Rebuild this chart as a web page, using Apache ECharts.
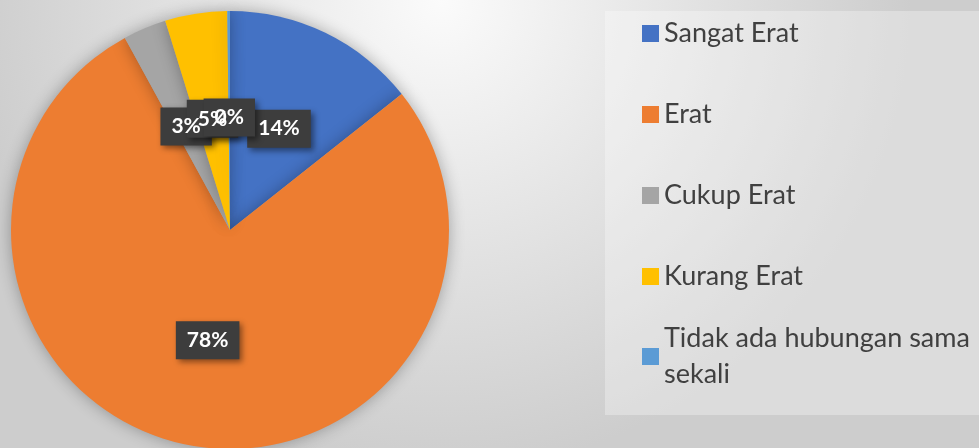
<!DOCTYPE html>
<html>
<head>
<meta charset="utf-8">
<script src="https://cdn.jsdelivr.net/npm/echarts@6/dist/echarts.min.js"></script>
<style>
  html, body { margin: 0; padding: 0; }
  #chart { width: 979px; height: 448px; }
</style>
</head>
<body>
<div id="chart"></div>
<script>
// data (shares, percent)
const categories = ['Sangat Erat', 'Erat', 'Cukup Erat', 'Kurang Erat', 'Tidak ada hubungan sama sekali']
const shares = [14.4, 78.0, 3.2, 4.6, 0.2]
const colors = ['#4472C4', '#ED7D31', '#A5A5A5', '#FFC000', '#5B9BD5']

const chart = echarts.init(document.getElementById('chart'))

const legendText = {
  fontFamily: 'Lato',
  fontSize: 27,
  lineHeight: 36,
  color: '#404040',
}

const pieData = categories.map((name, i) => ({ name, value: shares[i] }))

const labelBase = {
  show: true,
  position: 'inside',
  formatter: '{d}%',
  fontFamily: 'Lato',
  fontWeight: 'bold',
  fontSize: 21,
  lineHeight: 24,
  padding: [7, 11],
}

const pieBase = {
  type: 'pie',
  center: [230, 230],
  radius: 219,
  startAngle: 90,
  percentPrecision: 0,
  avoidLabelOverlap: false,
  minShowLabelAngle: 0,
  labelLayout: { hideOverlap: false },
  labelLine: { show: false },
  emphasis: { disabled: true },
  data: pieData,
}

chart.setOption({
  backgroundColor: {
    type: 'radial', x: 0.45, y: 0.0, r: 1.05,
    colorStops: [
      { offset: 0, color: '#fbfbfb' },
      { offset: 1, color: '#cdcdcd' },
    ],
  },
  color: colors,
  graphic: [{
    type: 'rect',
    z: -10,
    shape: { x: 605, y: 11, width: 374, height: 404 },
    style: { fill: 'rgba(255,255,255,0.3)' },
  }],
  legend: [
    {
      data: categories.slice(0, 4),
      orient: 'vertical',
      left: 637,
      top: 10.5,
      itemWidth: 17,
      itemHeight: 17,
      itemGap: 45,
      icon: 'rect',
      selectedMode: false,
      textStyle: legendText,
    },
    {
      data: categories.slice(4),
      orient: 'vertical',
      left: 637,
      top: 297.5,
      itemWidth: 17,
      itemHeight: 17,
      icon: 'rect',
      selectedMode: false,
      // last word goes to a second line, first line stays level with the icon
      formatter: (name) => name.replace(/ (\S+)$/, '\n$1'),
      textStyle: { ...legendText, padding: [36, 0, 0, 0] },
    },
  ],
  series: [
    {
      ...pieBase,
      itemStyle: {
        borderWidth: 0,
        shadowBlur: 16,
        shadowColor: 'rgba(0,0,0,0.3)',
      },
      // dark label boxes only
      label: {
        ...labelBase,
        color: 'rgba(0,0,0,0)',
        backgroundColor: '#3d3d3d',
        shadowColor: 'rgba(0,0,0,0.45)',
        shadowBlur: 6,
        shadowOffsetX: 3,
        shadowOffsetY: 3,
      },
    },
    {
      // same slices again, invisible, so that every label text sits above every box
      ...pieBase,
      silent: true,
      itemStyle: { color: 'rgba(0,0,0,0)', borderWidth: 0 },
      label: { ...labelBase, color: '#ffffff' },
    },
  ],
})

window.addEventListener('resize', () => chart.resize())
</script>
</body>
</html>
